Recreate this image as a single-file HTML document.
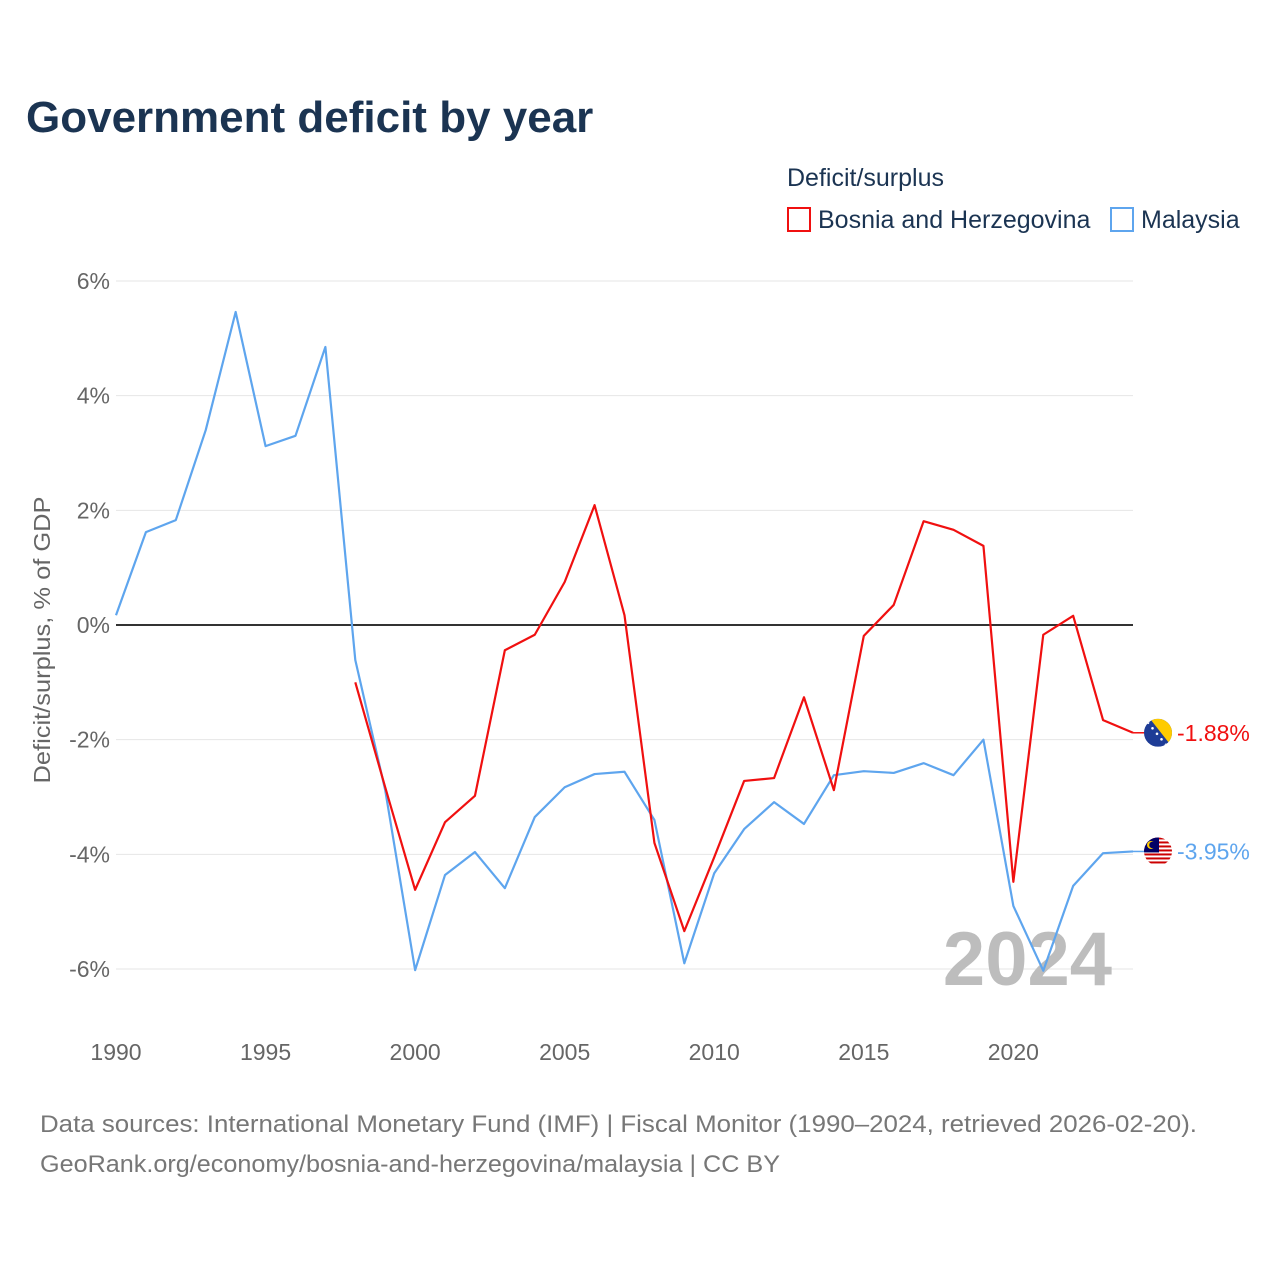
<!DOCTYPE html>
<html><head><meta charset="utf-8"><style>
html,body{margin:0;padding:0;background:#fff;}
body{width:1280px;height:1280px;position:relative;font-family:"Liberation Sans",sans-serif;overflow:hidden;}
</style></head><body>
<svg width="1280" height="1280" id="chart" xmlns="http://www.w3.org/2000/svg" font-family="Liberation Sans, sans-serif">
<text x="26" y="132" font-size="44" font-weight="bold" fill="#1b3452">Government deficit by year</text>
<g>
<text x="787" y="186" font-size="25" fill="#1b3452">Deficit/surplus</text>
<g><rect x="788" y="208" width="22" height="23" fill="none" stroke="#f01010" stroke-width="2"/><text x="818" y="228" font-size="25" fill="#1b3452">Bosnia and Herzegovina</text></g>
<g><rect x="1111" y="208" width="22" height="23" fill="none" stroke="#5ea5ee" stroke-width="2"/><text x="1141" y="228" font-size="25" fill="#1b3452">Malaysia</text></g>
</g>
<g id="grid"></g>
<g id="yticks"></g>
<g id="xticks"></g>
<text transform="translate(50,640) rotate(-90)" text-anchor="middle" font-size="23" fill="#666" textLength="287" lengthAdjust="spacingAndGlyphs">Deficit/surplus, % of GDP</text>
<text x="1112" y="985" text-anchor="end" font-size="76" font-weight="bold" fill="#bdbdbd">2024</text>
<g id="series"></g>
<text x="40" y="1132" font-size="24" fill="#777" textLength="1157" lengthAdjust="spacingAndGlyphs">Data sources: International Monetary Fund (IMF) | Fiscal Monitor (1990–2024, retrieved 2026-02-20).</text>
<text x="40" y="1172" font-size="24" fill="#777" textLength="740" lengthAdjust="spacingAndGlyphs">GeoRank.org/economy/bosnia-and-herzegovina/malaysia | CC BY</text>
</svg>
<script>
const malaysiaYears = [1990,1991,1992,1993,1994,1995,1996,1997,1998,1999,2000,2001,2002,2003,2004,2005,2006,2007,2008,2009,2010,2011,2012,2013,2014,2015,2016,2017,2018,2019,2020,2021,2022,2023,2024];
const malaysiaValues = [0.17,1.62,1.83,3.4,5.46,3.12,3.3,4.85,-0.61,-2.88,-6.02,-4.36,-3.96,-4.59,-3.35,-2.83,-2.6,-2.56,-3.4,-5.9,-4.33,-3.56,-3.09,-3.47,-2.62,-2.55,-2.58,-2.41,-2.62,-2.0,-4.9,-6.03,-4.55,-3.98,-3.95];
const bosniaYears = [1998,1999,2000,2001,2002,2003,2004,2005,2006,2007,2008,2009,2010,2011,2012,2013,2014,2015,2016,2017,2018,2019,2020,2021,2022,2023,2024];
const bosniaValues = [-1.0,-2.83,-4.62,-3.44,-2.98,-0.44,-0.17,0.75,2.09,0.17,-3.8,-5.34,-4.05,-2.72,-2.67,-1.26,-2.88,-0.19,0.35,1.81,1.66,1.38,-4.48,-0.17,0.16,-1.66,-1.88];
const yTicks = [6,4,2,0,-2,-4,-6];
const xTicks = [1990,1995,2000,2005,2010,2015,2020];

const NS="http://www.w3.org/2000/svg";
const x = y => 116 + (y-1990)*(1133-116)/34;
const yS = v => 625 - v*57.33;
function mk(tag, attrs, parent){const e=document.createElementNS(NS,tag);for(const k in attrs)e.setAttribute(k,attrs[k]);parent.appendChild(e);return e;}
const grid=document.getElementById('grid'), yt=document.getElementById('yticks'), xt=document.getElementById('xticks'), ser=document.getElementById('series');
yTicks.forEach(t=>{
  const l=mk('line',{x1:116,x2:1133,y1:yS(t),y2:yS(t),stroke:t===0?'#333':'#e6e6e6','stroke-width':t===0?2:1},grid);
  
  
  const tx=mk('text',{x:110,y:yS(t)+8,'text-anchor':'end','font-size':23,fill:'#666'},yt);
  tx.textContent=t+'%';
  
  
});
xTicks.forEach(t=>{
  const tx=mk('text',{x:x(t),y:1060,'text-anchor':'middle','font-size':23,fill:'#666'},xt);
  tx.textContent=t;
  
  
});
function line(years, vals, color, name){
  const p=mk('polyline',{points:years.map((yr,i)=>x(yr)+','+yS(vals[i])).join(' '),fill:'none',stroke:color,'stroke-width':2.2,'stroke-linejoin':'round'},ser);
  
  
  const lv=vals[vals.length-1], ly=yS(lv);
  mk('line',{x1:x(years[years.length-1]),x2:1145,y1:ly,y2:ly,stroke:color,'stroke-width':1.5},ser);
  const t=mk('text',{x:1177,y:ly+8,'font-size':23,fill:color},ser);
  t.textContent=lv.toFixed(2)+'%';
  
  
  return ly;
}
line(malaysiaYears, malaysiaValues, '#5ea5ee', 'malaysia-line');
line(bosniaYears, bosniaValues, '#f01010', 'bosnia-line');
function flag(cy, kind){
  const g=mk('g',{},ser);
  
  
  const id='c'+kind;
  const cp=mk('clipPath',{id:id},g); mk('circle',{cx:1158,cy:cy,r:14},cp);
  const gg=mk('g',{'clip-path':'url(#'+id+')'},g);
  if(kind==='bosnia'){
    mk('rect',{x:1144,y:cy-14,width:28,height:28,fill:'#1e3c96'},gg);
    mk('polygon',{points:`1150,${cy-14} 1172,${cy-14} 1172,${cy+14}`,fill:'#fecb00'},gg);
    for(let i=0;i<5;i++) mk('circle',{cx:1148+i*4.5,cy:cy-10+i*5.5,r:1.3,fill:'#fff'},gg);
  } else {
    mk('rect',{x:1144,y:cy-14,width:28,height:28,fill:'#fff'},gg);
    for(let i=0;i<7;i++) mk('rect',{x:1144,y:cy-14+i*4,width:28,height:2,fill:'#cc0001'},gg);
    mk('rect',{x:1144,y:cy-14,width:15,height:15,fill:'#010066'},gg);
    mk('circle',{cx:1151,cy:cy-6.5,r:4,fill:'#fc0'},gg);
    mk('circle',{cx:1152.5,cy:cy-6.5,r:3.3,fill:'#010066'},gg);
  }
}
flag(yS(bosniaValues[bosniaValues.length-1]),'bosnia');
flag(yS(malaysiaValues[malaysiaValues.length-1]),'malaysia');
</script>
</body></html>
